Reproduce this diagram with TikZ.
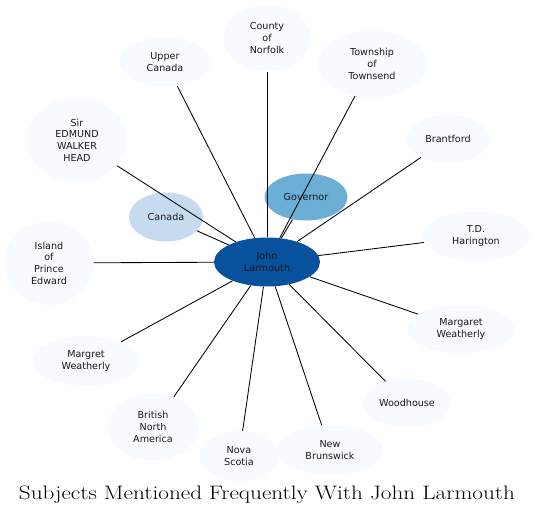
\documentclass[tikz,border=0pt]{standalone}
\usepackage{fontspec}
\usepackage{graphicx}
\newfontfamily\nodefont{DejaVu Sans}
\usetikzlibrary{shapes.geometric}
\definecolor{cdark}{HTML}{08519C}
\definecolor{cmid}{HTML}{6BAED6}
\definecolor{clight}{HTML}{C6DBEF}
\definecolor{cpale}{HTML}{F7FBFF}
\tikzset{
  ent/.style={ellipse, inner sep=0pt, align=center, font=\nodefont\fontsize{9.6}{11.7}\selectfont, text=black!90},
  pale/.style={ent, fill=cpale},
  link/.style={draw=black, line width=0.85pt}
}
\begin{document}
\begin{tikzpicture}[x=1pt,y=-1pt]
\useasboundingbox (0,0) rectangle (536,517);
\node[ent, fill=cdark, minimum width=106pt, minimum height=49pt] (john) at (267,262) {John\\Larmouth};
\node[ent, fill=cmid, minimum width=83pt, minimum height=47pt] (gov) at (306,197) {Governor};
\node[ent, fill=clight, minimum width=74pt, minimum height=49pt] (canada) at (166,217) {Canada};
\node[pale, minimum width=87pt, minimum height=67pt] (norfolk) at (267,38) {County\\of\\Norfolk};
\node[pale, minimum width=90pt, minimum height=50pt] (upper) at (165,62) {Upper\\Canada};
\node[pale, minimum width=101pt, minimum height=84pt] (head) at (77,140) {Sir\\EDMUND\\WALKER\\HEAD};
\node[pale, minimum width=110pt, minimum height=67pt] (townsend) at (372,64) {Township\\of\\Townsend};
\node[pale, minimum width=84pt, minimum height=48pt] (brant) at (448,139) {Brantford};
\node[pale, minimum width=107pt, minimum height=49pt] (td) at (476,236) {T.D.\\Harington};
\node[pale, minimum width=89pt, minimum height=84pt] (pei) at (49,263) {Island\\of\\Prince\\Edward};
\node[pale, minimum width=107pt, minimum height=49pt] (margaret) at (461,329) {Margaret\\Weatherly};
\node[pale, minimum width=108pt, minimum height=50pt] (margret) at (86,361) {Margret\\Weatherly};
\node[pale, minimum width=88pt, minimum height=49pt] (wood) at (407,403) {Woodhouse};
\node[pale, minimum width=92pt, minimum height=67pt] (bna) at (153,427) {British\\North\\America};
\node[pale, minimum width=79pt, minimum height=50pt] (nova) at (239,456) {Nova\\Scotia};
\node[pale, minimum width=105pt, minimum height=50pt] (nb) at (330,450) {New\\Brunswick};
\node[font=\fontsize{19.5}{22}\selectfont] (title) at (267,495) {\scalebox{1.19}[1]{Subjects Mentioned Frequently With John Larmouth}};
\foreach \t in {gov,canada,norfolk,upper,head,townsend,brant,td,pei,margaret,margret,wood,bna,nova,nb}
  \draw[link] (john) -- (\t);
\end{tikzpicture}
\end{document}
